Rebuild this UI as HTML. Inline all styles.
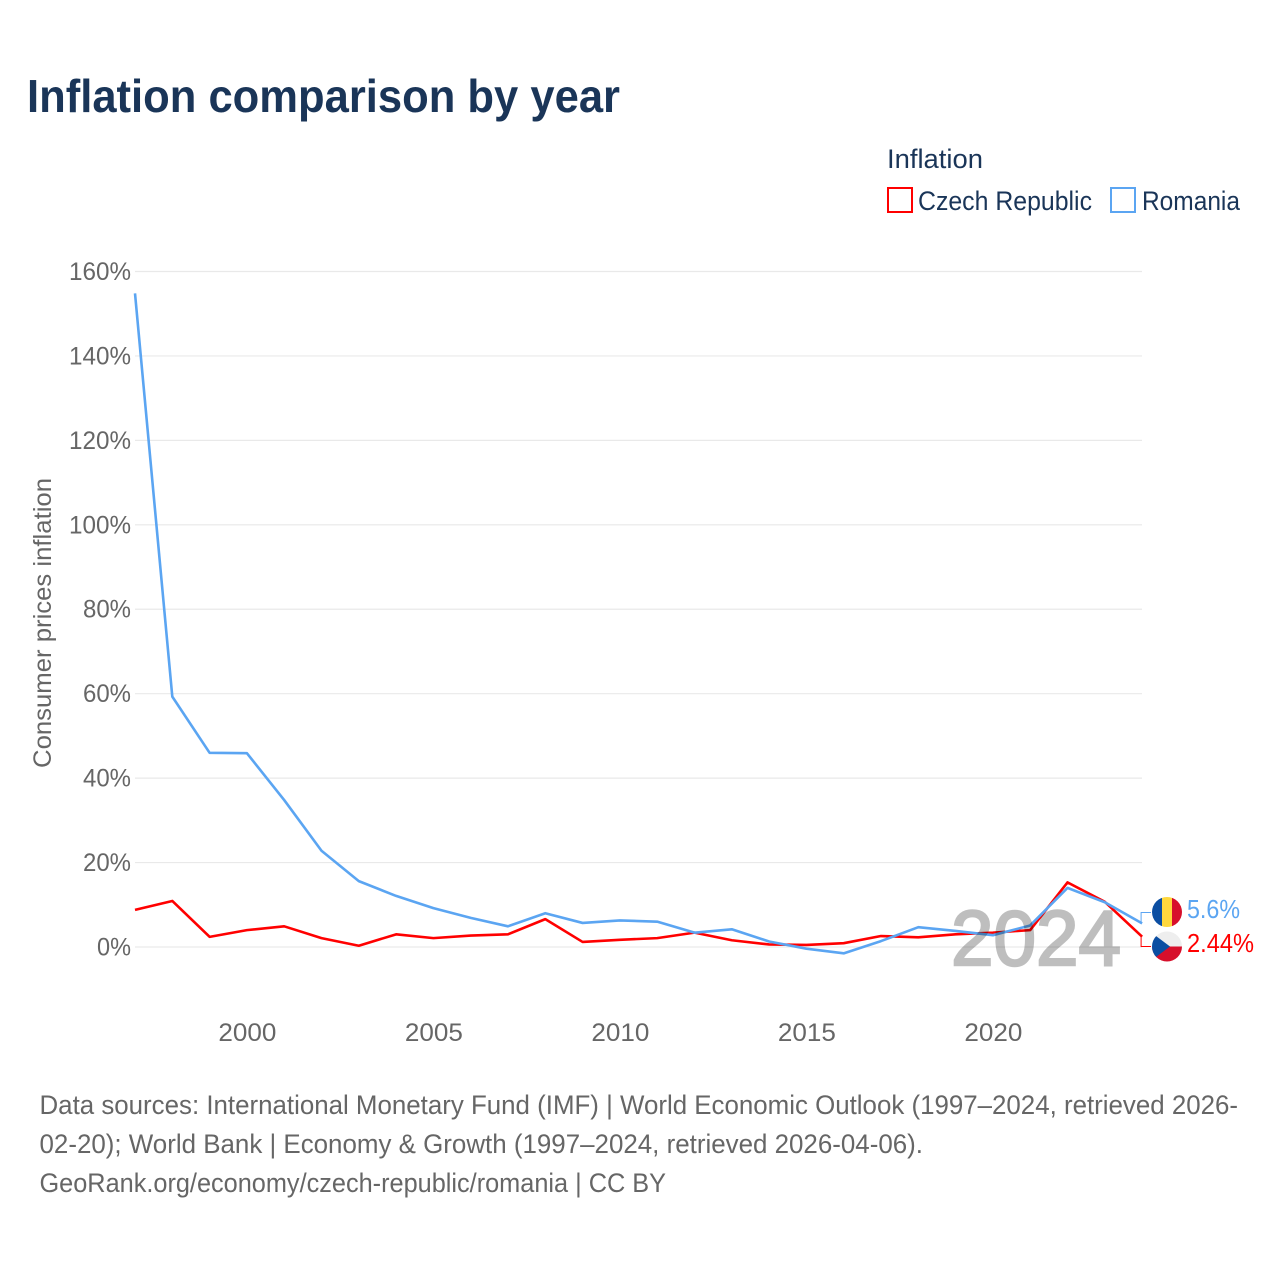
<!DOCTYPE html>
<html lang="en">
<head>
<meta charset="utf-8">
<title>Inflation comparison by year</title>
<style>
html,body{margin:0;padding:0;background:#fff;}
svg{display:block;font-family:"Liberation Sans",sans-serif;}
</style>
</head>
<body>
<svg id="chart" xmlns="http://www.w3.org/2000/svg" width="1280" height="1280" viewBox="0 0 1280 1280">
  <defs>
    <clipPath id="clip-ro"><circle cx="1167" cy="912" r="15"/></clipPath>
    <clipPath id="clip-cz"><circle cx="1167" cy="946.5" r="15"/></clipPath>
  </defs>
  <rect x="0" y="0" width="1280" height="1280" fill="#fff"/>
  <text x="27" y="112" font-size="46" font-weight="700" fill="#1a3558" textLength="593" lengthAdjust="spacingAndGlyphs">Inflation comparison by year</text>

  <text x="887" y="168" font-size="27" fill="#1a3558" textLength="96" lengthAdjust="spacingAndGlyphs">Inflation</text>
  <g>
    <rect x="888" y="188" width="24" height="24" fill="#fff" stroke="#ff0000" stroke-width="2"/>
    <text x="918" y="210" font-size="27" fill="#1a3558" textLength="174" lengthAdjust="spacingAndGlyphs">Czech Republic</text>
  </g>
  <g>
    <rect x="1111" y="188" width="24" height="24" fill="#fff" stroke="#5ba5f2" stroke-width="2"/>
    <text x="1142" y="210" font-size="27" fill="#1a3558" textLength="98" lengthAdjust="spacingAndGlyphs">Romania</text>
  </g>

  <text transform="translate(51,623) rotate(-90)" text-anchor="middle" font-size="25" fill="#666666" textLength="290" lengthAdjust="spacingAndGlyphs">Consumer prices inflation</text>

  <g id="grid"></g>
  <g id="ylabels" font-size="25" fill="#666666"></g>
  <g id="xlabels" font-size="25" fill="#666666" text-anchor="middle"></g>

  <g id="series"></g>

  <text x="1036" y="965" text-anchor="middle" font-size="78" font-weight="400" fill="#000000" stroke="#000000" stroke-width="2.4" opacity="0.25" textLength="170" lengthAdjust="spacingAndGlyphs">2024</text>

  <g>
    <g clip-path="url(#clip-ro)">
      <rect x="1152" y="897" width="10" height="30" fill="#0b4ea2"/>
      <rect x="1162" y="897" width="10" height="30" fill="#ffd83d"/>
      <rect x="1172" y="897" width="10" height="30" fill="#d70f2b"/>
    </g>
    <text x="1187" y="918" font-size="26" fill="#5ba5f2" textLength="53" lengthAdjust="spacingAndGlyphs">5.6%</text>
  </g>
  <g>
    <g clip-path="url(#clip-cz)">
      <rect x="1152" y="931.5" width="30" height="15" fill="#eeeeee"/>
      <rect x="1152" y="946.5" width="30" height="15" fill="#d70f2b"/>
      <polygon points="1150,931.5 1170,946.5 1150,961.5" fill="#0b4ea2"/>
    </g>
    <text x="1187" y="952" font-size="26" fill="#ff0000" textLength="67" lengthAdjust="spacingAndGlyphs">2.44%</text>
  </g>

  <g font-size="27" fill="#666666">
    <text x="39.5" y="1114" textLength="1198.5" lengthAdjust="spacingAndGlyphs">Data sources: International Monetary Fund (IMF) | World Economic Outlook (1997–2024, retrieved 2026-</text>
    <text x="39.5" y="1153" textLength="883.5" lengthAdjust="spacingAndGlyphs">02-20); World Bank | Economy &amp; Growth (1997–2024, retrieved 2026-04-06).</text>
    <text x="39.5" y="1192" textLength="626.5" lengthAdjust="spacingAndGlyphs">GeoRank.org/economy/czech-republic/romania | CC BY</text>
  </g>
</svg>
<script>
const years = [1997,1998,1999,2000,2001,2002,2003,2004,2005,2006,2007,2008,2009,2010,2011,2012,2013,2014,2015,2016,2017,2018,2019,2020,2021,2022,2023,2024];
const romania = [154.8,59.3,46.0,45.9,34.8,22.8,15.6,12.1,9.2,6.9,4.9,8.0,5.7,6.3,6.0,3.4,4.2,1.3,-0.4,-1.5,1.4,4.7,3.8,2.8,5.1,14.0,10.6,5.6];
const czech = [8.8,10.9,2.4,4.0,4.9,2.1,0.3,3.0,2.1,2.7,3.0,6.6,1.2,1.7,2.1,3.4,1.6,0.6,0.5,0.9,2.6,2.3,3.0,3.4,4.0,15.3,10.7,2.44];
const yTicks = [0,20,40,60,80,100,120,140,160];
const xTicks = [2000,2005,2010,2015,2020];

const NS = 'http://www.w3.org/2000/svg';
const xScale = function (year) { return 135 + (year - 1997) * 37.3; };
const yScale = function (value) { return 947 - value * 4.222; };

const gridGroup = document.getElementById('grid');
const yLabelGroup = document.getElementById('ylabels');
const xLabelGroup = document.getElementById('xlabels');
const seriesGroup = document.getElementById('series');

yTicks.forEach(function (tick) {
  const line = document.createElementNS(NS, 'line');
  
  
  line.setAttribute('x1', 135);
  line.setAttribute('x2', 1142);
  line.setAttribute('y1', yScale(tick));
  line.setAttribute('y2', yScale(tick));
  line.setAttribute('stroke', '#e9e9e9');
  line.setAttribute('stroke-width', 1.2);
  gridGroup.appendChild(line);

  const label = document.createElementNS(NS, 'text');
  const text = tick + '%';
  const width = 20 + 14 * String(tick).length;
  
  
  label.setAttribute('x', 131 - width);
  label.setAttribute('y', yScale(tick) + 8.5);
  label.setAttribute('textLength', width);
  label.setAttribute('lengthAdjust', 'spacingAndGlyphs');
  label.textContent = text;
  yLabelGroup.appendChild(label);
});

xTicks.forEach(function (tick) {
  const label = document.createElementNS(NS, 'text');
  
  
  label.setAttribute('x', xScale(tick) + 0.5);
  label.setAttribute('y', 1041);
  label.setAttribute('textLength', 58);
  label.setAttribute('lengthAdjust', 'spacingAndGlyphs');
  label.textContent = tick;
  xLabelGroup.appendChild(label);
});

function linePath(values) {
  return values.map(function (v, i) {
    return (i ? 'L' : 'M') + xScale(years[i]).toFixed(2) + ' ' + yScale(v).toFixed(2);
  }).join(' ');
}

const czechLine = document.createElementNS(NS, 'path');


czechLine.setAttribute('d', linePath(czech));
czechLine.setAttribute('fill', 'none');
czechLine.setAttribute('stroke', '#ff0000');
czechLine.setAttribute('stroke-width', 2.6);
czechLine.setAttribute('stroke-linejoin', 'round');
seriesGroup.appendChild(czechLine);

const romaniaLine = document.createElementNS(NS, 'path');


romaniaLine.setAttribute('d', linePath(romania));
romaniaLine.setAttribute('fill', 'none');
romaniaLine.setAttribute('stroke', '#5ba5f2');
romaniaLine.setAttribute('stroke-width', 2.6);
romaniaLine.setAttribute('stroke-linejoin', 'round');
seriesGroup.appendChild(romaniaLine);

const endX = xScale(years[years.length - 1]) - 1;

const romaniaLeader = document.createElementNS(NS, 'path');


romaniaLeader.setAttribute('d', 'M' + endX + ' ' + yScale(romania[romania.length - 1]) + ' V912.5 H1151');
romaniaLeader.setAttribute('fill', 'none');
romaniaLeader.setAttribute('stroke', '#5ba5f2');
romaniaLeader.setAttribute('stroke-width', 1);
seriesGroup.appendChild(romaniaLeader);

const czechLeader = document.createElementNS(NS, 'path');


czechLeader.setAttribute('d', 'M' + endX + ' ' + yScale(czech[czech.length - 1]) + ' V946.5 H1151');
czechLeader.setAttribute('fill', 'none');
czechLeader.setAttribute('stroke', '#ff0000');
czechLeader.setAttribute('stroke-width', 1);
seriesGroup.appendChild(czechLeader);
</script>
</body>
</html>
